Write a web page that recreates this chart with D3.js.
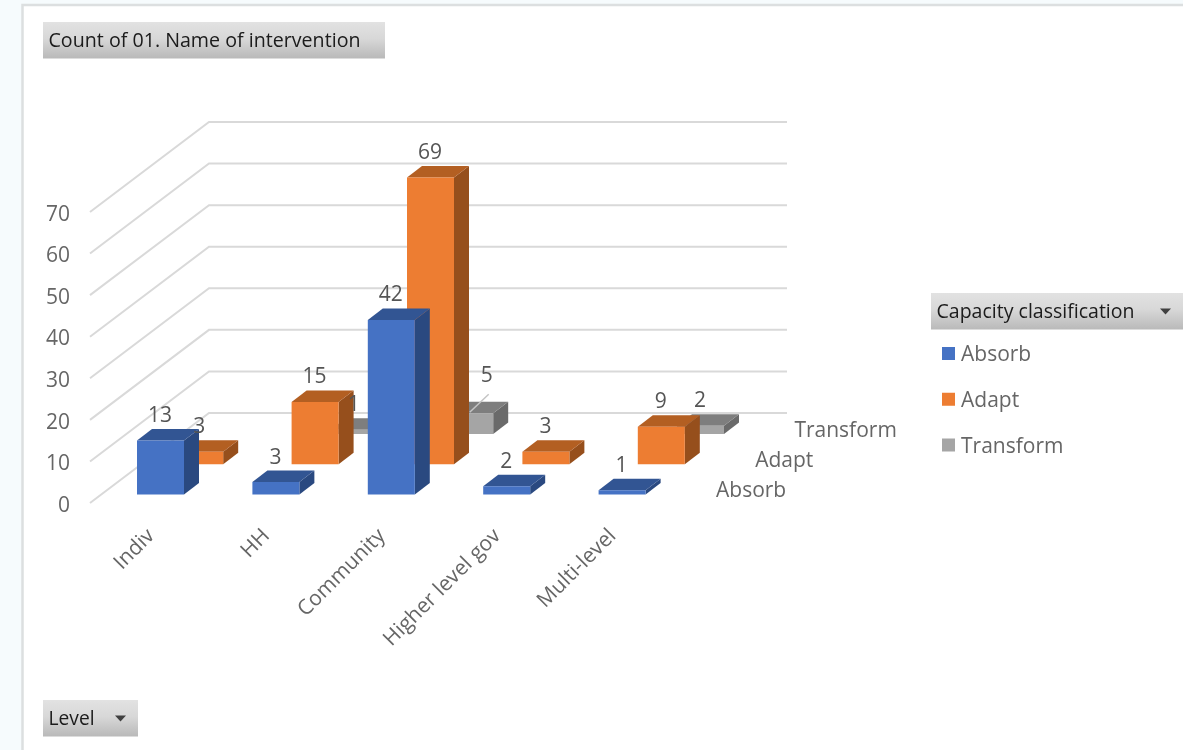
<!DOCTYPE html>
<html><head><meta charset="utf-8">
<script src="https://cdn.jsdelivr.net/npm/d3@7/dist/d3.min.js"></script>
<style>
html,body{margin:0;padding:0;background:#f6fbfd;overflow:hidden}
text{font-family:"Open Sans",sans-serif}
</style></head><body>
<svg id="c" width="1183" height="750"></svg>
<script>
const categories = ["Indiv","HH","Community","Higher level gov","Multi-level"];
const seriesNames = ["Absorb","Adapt","Transform"];
const absorb = [13,3,42,2,1];
const adapt = [3,15,69,3,9];
const transform = [null,1,5,null,2];
const valueTicks = [0,10,20,30,40,50,60,70];
const title = "Count of 01. Name of intervention";
const legendTitle = "Capacity classification";
const axisTitle = "Level";

const seriesValues = {Absorb:absorb, Adapt:adapt, Transform:transform};
const palette = {
  Absorb:{front:"#4472c4",top:"#335593",side:"#2b4a80"},
  Adapt:{front:"#ed7d31",top:"#b35e23",side:"#964f1d"},
  Transform:{front:"#a5a5a5",top:"#7e7e7e",side:"#6a6a6a"}
};
const fs = 21;
const root = d3.select("#c");
const defs = root.append("defs");
const g = defs.append("linearGradient").attr("id","btn").attr("x1",0).attr("y1",0).attr("x2",0).attr("y2",1);
g.append("stop").attr("offset",0).attr("stop-color","#e2e2e2");
g.append("stop").attr("offset",.45).attr("stop-color","#d8d8d8");
g.append("stop").attr("offset",1).attr("stop-color","#b9b9b9");
defs.append("filter").attr("id","soft").attr("x",0).attr("y",0).attr("width",1).attr("height",1)
  .attr("filterUnits","objectBoundingBox")
  .append("feGaussianBlur").attr("stdDeviation",0.45);
const svg = root.append("g").attr("filter","url(#soft)");
svg.append("rect").attr("width",1183).attr("height",750).attr("fill","#f6fbfd");

// frame
svg.append("rect").attr("x",22.5).attr("y",5).attr("width",1170).attr("height",760).attr("fill","#fff").attr("stroke","#dcdfe0").attr("stroke-width",2.5);

// scales
const barW = 47, depthX = 15, depthY = 11.5;
const wallX = 209, wallEnd = 787, sideDX = -119, sideDY = 90;
const wallY = d3.scaleLinear().domain([0,70]).range([413,122]);
const h = d3.scaleLinear().domain([0,70]).range([0,291]);
const catX = d3.scalePoint().domain(categories).range([137,598.6]);
const serDX = d3.scalePoint().domain(seriesNames).range([0,78.4]);
const serBase = d3.scalePoint().domain(seriesNames).range([494.5,434]);

// gridlines
const grid = svg.append("g").attr("fill","none").attr("stroke","#d9d9d9").attr("stroke-width",2);
grid.selectAll("path").data(valueTicks).join("path")
  .attr("d",v=>d3.line()([[wallX+sideDX,wallY(v)+sideDY],[wallX,wallY(v)],[wallEnd,wallY(v)]]));

// value axis
const frontScale = wallY.copy().range([wallY(0)+sideDY,wallY(70)+sideDY]);
const yAxis = svg.append("g").attr("transform","translate(70,1.5)")
  .call(d3.axisLeft(frontScale).tickValues(valueTicks).tickSize(0).tickPadding(0));
yAxis.select(".domain").remove();
yAxis.selectAll("text").attr("font-size",fs).attr("fill","#666").attr("font-family",'"Open Sans",sans-serif');

// bars, back series first
const marks = seriesNames.slice().reverse().flatMap(s=>categories.map((c,i)=>({s,c,v:seriesValues[s][i]}))).filter(d=>d.v!=null);
const poly = pts => d3.line()(pts)+"Z";
const bars = svg.append("g").selectAll("g").data(marks).join("g");
const L = d=>catX(d.c)+serDX(d.s), B = d=>serBase(d.s), T = d=>serBase(d.s)-h(d.v);
bars.append("path").attr("fill",d=>palette[d.s].side)
  .attr("d",d=>poly([[L(d)+barW,B(d)],[L(d)+barW+depthX,B(d)-depthY],[L(d)+barW+depthX,T(d)-depthY],[L(d)+barW,T(d)]]));
bars.append("path").attr("fill",d=>palette[d.s].top)
  .attr("d",d=>poly([[L(d),T(d)],[L(d)+depthX,T(d)-depthY],[L(d)+barW+depthX,T(d)-depthY],[L(d)+barW,T(d)]]));
bars.append("path").attr("fill",d=>palette[d.s].front)
  .attr("d",d=>poly([[L(d),B(d)],[L(d),T(d)],[L(d)+barW,T(d)],[L(d)+barW,B(d)]]));

// data labels
const moved = d=>d.s==="Transform"&&d.c==="Community";
svg.append("g").selectAll("line").data(marks.filter(moved)).join("line")
  .attr("x1",d=>L(d)+barW/2).attr("y1",d=>T(d)-1)
  .attr("x2",d=>L(d)+barW/2+19).attr("y2",d=>T(d)-19)
  .attr("stroke","#c4c4c4").attr("stroke-width",1.5);
svg.append("g").selectAll("text").data(marks).join("text")
  .attr("x",d=>L(d)+barW/2+(moved(d)?17:-0.5))
  .attr("y",d=>T(d)-depthY-14.5+(moved(d)?-13:0))
  .attr("dy","0.36em").attr("text-anchor","middle").attr("font-size",fs).attr("fill","#555")
  .text(d=>d.v);

// category axis
const xAxis = svg.append("g").attr("transform","translate(0,526.5)")
  .call(d3.axisBottom(catX.copy().range([137+barW/2-16,598.6+barW/2-16])).tickSize(0).tickPadding(0));
xAxis.select(".domain").remove();
xAxis.selectAll("text").attr("font-size",fs).attr("fill","#666").attr("font-family",'"Open Sans",sans-serif')
  .attr("text-anchor","end").attr("dy","0.7em").attr("transform","rotate(-45)");

// series axis
svg.append("g").selectAll("text").data(seriesNames).join("text")
  .attr("x",s=>716+serDX(s)).attr("y",s=>serBase(s)-5).attr("dy","0.36em")
  .attr("font-size",fs).attr("fill","#666").text(s=>s);

// field buttons
function button(x,y,w,label,textW,arrowX){
  const b = svg.append("g");
  b.append("rect").attr("x",x).attr("y",y).attr("width",w).attr("height",36.5).attr("fill","url(#btn)");
  b.append("text").attr("x",x+5.5).attr("y",y+18).attr("dy","0.36em").attr("font-size",20.5).attr("fill","#1a1a1a")
    .attr("textLength",textW).attr("lengthAdjust","spacingAndGlyphs").text(label);
  if(arrowX) b.append("path").attr("fill","#404040").attr("d",d3.line()([[arrowX,y+15.5],[arrowX+11,y+15.5],[arrowX+5.5,y+21.5]])+"Z");
}
button(43,22,342,title,312);
button(931,293,252,legendTitle,198,1160);
button(43,700,95,axisTitle,46,115);

// legend
const legY = d3.scalePoint().domain(seriesNames).range([353.5,445]);
const leg = svg.append("g").selectAll("g").data(seriesNames).join("g");
leg.append("rect").attr("x",942).attr("y",s=>legY(s)-6.5).attr("width",13).attr("height",13).attr("fill",s=>palette[s].front);
leg.append("text").attr("x",961).attr("y",legY).attr("dy","0.36em").attr("font-size",fs).attr("fill","#666").text(s=>s);
</script>
</body></html>
